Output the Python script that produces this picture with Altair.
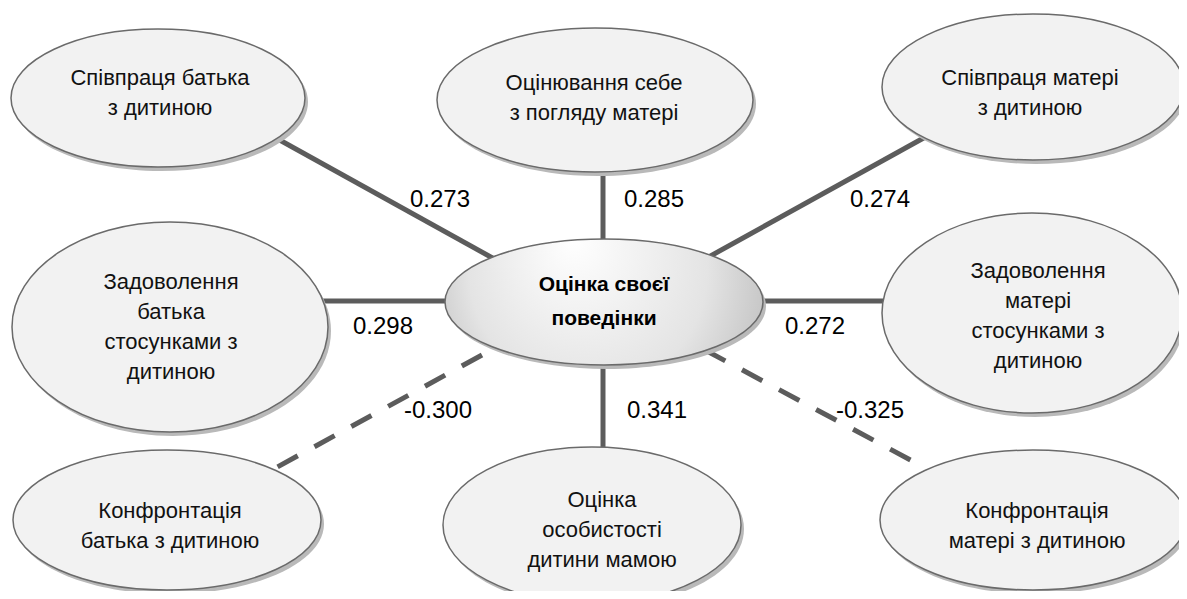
import altair as alt
import pandas as pd

# ---- nodes (outer) ----
node_names = [
    "Співпраця батька\nз дитиною",
    "Оцінювання себе\nз погляду матері",
    "Співпраця матері\nз дитиною",
    "Задоволення\nбатька\nстосунками з\nдитиною",
    "Задоволення\nматері\nстосунками з\nдитиною",
    "Конфронтація\nбатька з дитиною",
    "Оцінка\nособистості\nдитини мамою",
    "Конфронтація\nматері з дитиною",
]
node_x = [158, 595, 1033, 170, 1032, 167, 592, 1033]
node_y = [98, 100, 87, 327, 313, 520, 525, 520]
node_rx = [147, 158, 151, 158, 150, 154, 149, 153]
node_ry = [69, 72, 73, 105, 100, 70, 78, 70]
text_x = [160, 594, 1030, 171, 1038, 170, 602, 1037]
text_y = [93, 98, 93, 327, 316, 526, 530, 526]

# ---- central node ----
center_name = ["Оцінка своєї\nповедінки"]
center_x = [604]
center_y = [302]
center_rx = [159]
center_ry = [63]

# ---- edges (inner end, outer end) ----
edge_x1 = [498, 603, 705, 452, 756, 603, 482, 705]
edge_y1 = [261, 245, 259, 301, 301, 360, 355, 350]
edge_x2 = [276, 603, 929, 320, 888, 603, 270, 918]
edge_y2 = [138, 165, 135, 301, 301, 455, 471, 464]
edge_dashed = [False, False, False, False, False, False, True, True]

# ---- correlation labels ----
corr = [0.273, 0.285, 0.274, 0.298, 0.272, 0.341, -0.300, -0.325]
label_x = [440, 654, 880, 383, 815, 657, 438, 870]
label_y = [200, 200, 200, 327, 327, 411, 411, 411]

NODE_LH = 30
CENTER_LH = 34


def ellipse_path(rx, ry):
    k = ry / rx
    return f"M -1 0 A 1 {k:.4f} 0 1 1 1 0 A 1 {k:.4f} 0 1 1 -1 0 Z"


def first_line_y(label, cy, lh):
    n = label.count("\n") + 1
    return cy - (n - 1) * lh / 2


nodes = pd.DataFrame({
    "name": node_names,
    "x": node_x, "y": node_y,
    "tx": text_x,
    "ty": [first_line_y(s, c, NODE_LH) for s, c in zip(node_names, text_y)],
    "path": [ellipse_path(a, b) for a, b in zip(node_rx, node_ry)],
    "sz": [(2 * a) ** 2 for a in node_rx],
})
center = pd.DataFrame({
    "name": center_name,
    "x": center_x, "y": center_y,
    "ty": [first_line_y(s, c, CENTER_LH) for s, c in zip(center_name, center_y)],
    "path": [ellipse_path(a, b) for a, b in zip(center_rx, center_ry)],
    "sz": [(2 * a) ** 2 for a in center_rx],
})
edges = pd.DataFrame({
    "x1": edge_x1, "y1": edge_y1, "x2": edge_x2, "y2": edge_y2,
    "dashed": edge_dashed,
})
labels = pd.DataFrame({
    "label": [f"{v:.3f}" for v in corr],
    "x": label_x, "y": label_y,
})

W, H = 1171, 583
xs = alt.Scale(domain=[8, 8 + W])
ys = alt.Scale(domain=[8 + H, 8])

X = lambda f: alt.X(f, type="quantitative", scale=xs, axis=None)
Y = lambda f: alt.Y(f, type="quantitative", scale=ys, axis=None)

line_color = "#5c5c5c"

solid = alt.Chart(edges).transform_filter("!datum.dashed").mark_rule(
    strokeWidth=5, color=line_color
).encode(x=X("x1"), y=Y("y1"), x2="x2:Q", y2="y2:Q")

dashed = alt.Chart(edges).transform_filter("datum.dashed").mark_rule(
    strokeWidth=5, color=line_color, strokeDash=[23, 19]
).encode(x=X("x1"), y=Y("y1"), x2="x2:Q", y2="y2:Q")

all_nodes = pd.concat([nodes[["x", "y", "path", "sz"]], center[["x", "y", "path", "sz"]]])

shadow = alt.Chart(all_nodes).mark_point(
    filled=True, fill="#b9b9b9", opacity=1, strokeWidth=0, xOffset=3, yOffset=4
).encode(
    x=X("x"), y=Y("y"),
    shape=alt.Shape("path:N", scale=None),
    size=alt.Size("sz:Q", scale=None),
)

outer = alt.Chart(nodes).mark_point(
    filled=True, fill="#f2f2f2", opacity=1, stroke="#6a6a6a", strokeWidth=1.5
).encode(
    x=X("x"), y=Y("y"),
    shape=alt.Shape("path:N", scale=None),
    size=alt.Size("sz:Q", scale=None),
)

center_mark = alt.Chart(center).mark_point(
    filled=True,
    fill={
        "gradient": "radial",
        "x1": 0.4, "y1": 0.3, "r1": 0.0,
        "x2": 0.5, "y2": 0.5, "r2": 0.75,
        "stops": [
            {"offset": 0.0, "color": "#ffffff"},
            {"offset": 0.5, "color": "#e4e4e4"},
            {"offset": 1.0, "color": "#a0a0a0"},
        ],
    },
    opacity=1, stroke="#6a6a6a", strokeWidth=1.5,
).encode(
    x=X("x"), y=Y("y"),
    shape=alt.Shape("path:N", scale=None),
    size=alt.Size("sz:Q", scale=None),
)

node_text = alt.Chart(nodes).mark_text(
    font="Liberation Sans", fontSize=22, color="#111111",
    lineBreak="\n", lineHeight=NODE_LH, align="center", baseline="middle",
).encode(x=X("tx"), y=Y("ty"), text="name:N")

center_text = alt.Chart(center).mark_text(
    font="Liberation Sans", fontSize=21, fontWeight="bold", color="#000000",
    lineBreak="\n", lineHeight=CENTER_LH, align="center", baseline="middle",
).encode(x=X("x"), y=Y("ty"), text="name:N")

label_text = alt.Chart(labels).mark_text(
    font="Liberation Sans", fontSize=24, color="#000000",
    align="center", baseline="middle",
).encode(x=X("x"), y=Y("y"), text="label:N")

chart = alt.layer(
    solid, dashed, shadow, outer, center_mark, node_text, center_text, label_text
).properties(
    width=W, height=H, padding=0,
    autosize=alt.AutoSizeParams(type="none"),
).configure_view(strokeWidth=0)

chart.save("out.html", embed_options={"renderer": "svg", "actions": False})
